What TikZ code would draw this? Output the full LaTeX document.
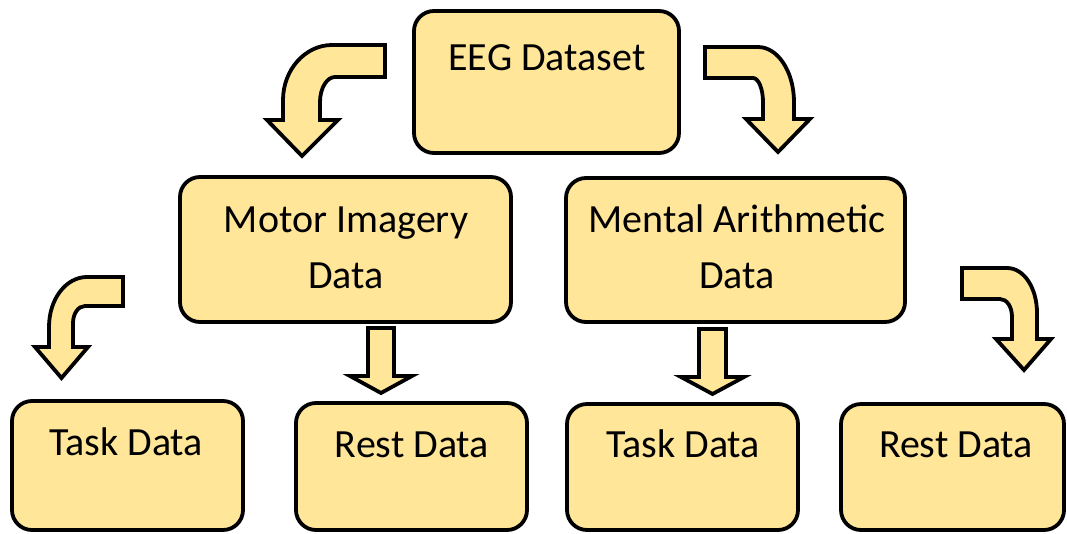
\documentclass[tikz,border=0pt]{standalone}
\usepackage{fontspec}
\setmainfont{Carlito}
\definecolor{boxfill}{HTML}{FFE699}
\begin{document}
\begin{tikzpicture}[x=1pt,y=-1pt,
  box/.style={draw=black, line width=3.8pt, fill=boxfill, rounded corners=20pt, inner sep=0pt},
  lbl/.style={inner sep=0pt, anchor=base, font=\fontsize{40}{48}\selectfont},
  blockarrow/.style={draw=black, line width=3.8pt, fill=boxfill, line join=miter}]
\useasboundingbox (0,0) rectangle (1067,533);
% boxes
\node[box, minimum width=265pt, minimum height=142pt] (eeg) at (546.5,82) {};
\node[box, minimum width=331pt, minimum height=145pt] (motor) at (345.5,249.5) {};
\node[box, minimum width=339pt, minimum height=144pt] (mental) at (735.5,250) {};
\node[box, minimum width=231pt, minimum height=129pt] (task1) at (127.5,465.5) {};
\node[box, minimum width=231pt, minimum height=127pt] (rest1) at (411.5,466.5) {};
\node[box, minimum width=231pt, minimum height=126pt] (task2) at (682.5,467) {};
\node[box, minimum width=223pt, minimum height=126pt] (rest2) at (952.5,467) {};
% labels
\node[lbl] (eegT) at (547,70) {EEG Dataset};
\node[lbl] (motorT1) at (346,232) {Motor Imagery};
\node[lbl] (motorT2) at (346,288) {Data};
\node[lbl] (mentalT1) at (737,232) {Mental Arithmetic};
\node[lbl] (mentalT2) at (737,288) {Data};
\node[lbl] (task1T) at (126,455) {Task Data};
\node[lbl] (rest1T) at (412,457) {Rest Data};
\node[lbl] (task2T) at (683,457) {Task Data};
\node[lbl] (rest2T) at (956,457) {Rest Data};
% top-left bent arrow
\draw[blockarrow] (385,45) -- (332,45) .. controls (305,45) and (283,70) .. (283,100)
  -- (283,120) -- (267,120) -- (302,156) -- (338,120) -- (320,120) -- (320,102)
  .. controls (320,88) and (327,77) .. (335,77) -- (385,77) -- cycle;
% top-right bent arrow
\draw[blockarrow] (705,47) -- (758,47) .. controls (778,47) and (794,72) .. (794,102)
  -- (794,119) -- (810,119) -- (778,152) -- (746,119) -- (763,119) -- (763,102)
  .. controls (763,89) and (758.5,78) .. (753,78) -- (705,78) -- cycle;
% bottom-left bent arrow
\draw[blockarrow] (123,277) -- (87,277) .. controls (66,277) and (49,299) .. (49,327)
  -- (49,347) -- (35,347) -- (61.5,378) -- (88,347) -- (73,347) -- (73,323)
  .. controls (73,314) and (78,306) .. (85,306) -- (123,306) -- cycle;
% bottom-right bent arrow
\draw[blockarrow] (962,268) -- (1007,268) .. controls (1024,268) and (1037,288) .. (1037,313)
  -- (1037,339) -- (1051,339) -- (1024,370) -- (996,339) -- (1012,339) -- (1012,317)
  .. controls (1012,307) and (1007,299) .. (1000,299) -- (962,299) -- cycle;
% straight arrows
\draw[blockarrow] (368,328) -- (394,328) -- (394,376) -- (412,376) -- (381,393)
  -- (350,376) -- (368,376) -- cycle;
\draw[blockarrow] (699,329) -- (726,329) -- (726,377) -- (744,377) -- (712.5,394)
  -- (681,377) -- (699,377) -- cycle;
\end{tikzpicture}
\end{document}
